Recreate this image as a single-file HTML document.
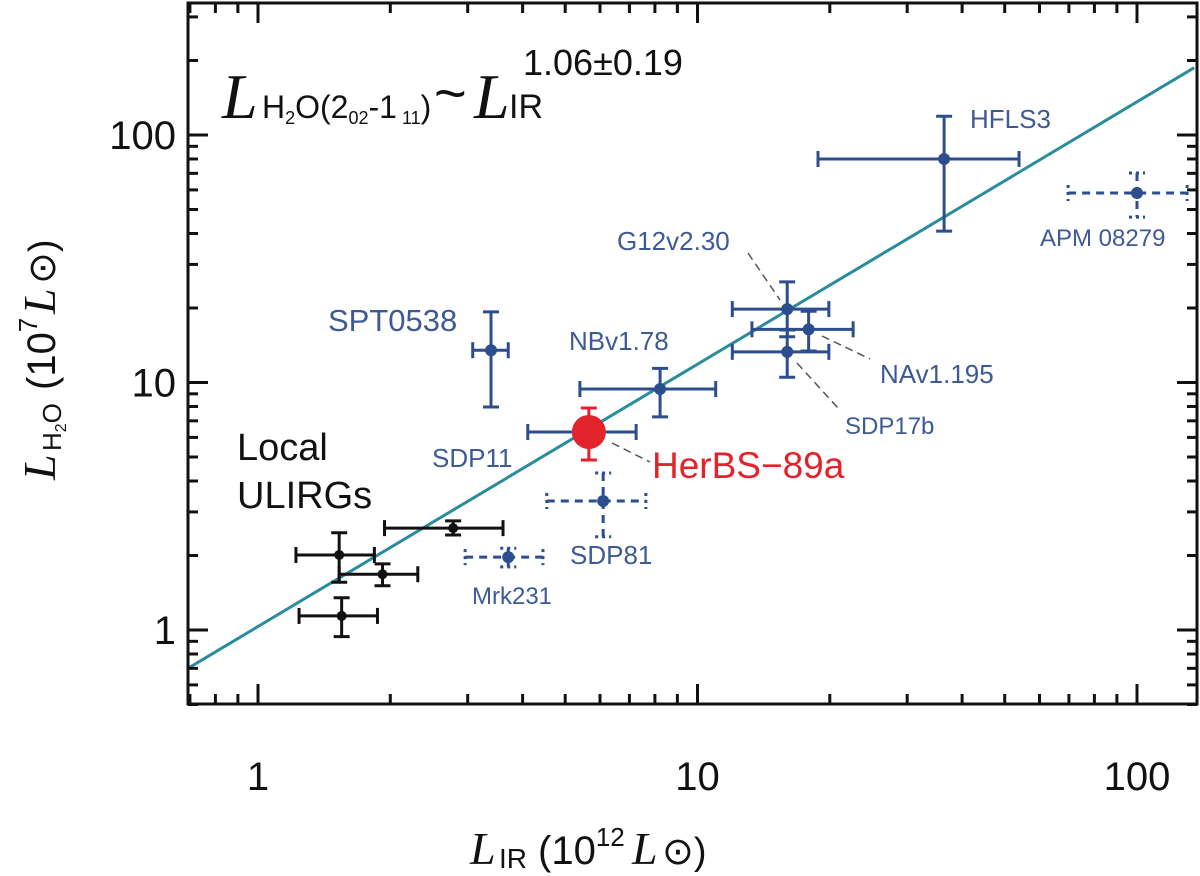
<!DOCTYPE html>
<html><head><meta charset="utf-8">
<style>
html,body{margin:0;padding:0;background:#fff;}
svg{display:block;}
text{font-family:"Liberation Sans",sans-serif;}
.serif{font-family:"Liberation Serif",serif;font-style:italic;}
</style></head>
<body>
<svg id="chart" width="1200" height="876" viewBox="0 0 1200 876" xmlns="http://www.w3.org/2000/svg">
  <g id="marks"></g>
  <g id="ticks"></g>
  <rect x="188" y="3" width="1009" height="701" fill="none" stroke="#111" stroke-width="3"/>
  <g>
    <text x="222" y="118" class="serif" font-size="64" fill="#111">L</text>
    <text x="262" y="118" font-size="32" fill="#111">H<tspan font-size="18" dy="6">2</tspan><tspan dy="-6">O(2</tspan><tspan font-size="18" dy="6">02</tspan><tspan dy="-6">-1</tspan><tspan font-size="18" dy="6"> 11</tspan><tspan dy="-6">)</tspan></text>
    <text x="434" y="112" font-size="56" fill="#111">~</text>
    <text x="474" y="118" class="serif" font-size="64" fill="#111">L</text>
    <text x="509" y="118" font-size="34" fill="#111">IR</text>
    <text x="523" y="75" font-size="36" fill="#111">1.06±0.19</text>
  </g>
  <g>
    <text x="470" y="864" class="serif" font-size="46" fill="#111">L</text>
    <text x="499" y="868" font-size="28" fill="#111">IR</text>
    <text x="538" y="864" font-size="40" fill="#111">(10<tspan font-size="26" dy="-18">12</tspan></text>
    <text x="632" y="864" class="serif" font-size="46" fill="#111">L</text>
    <text x="662" y="864" font-size="38" fill="#111">⊙)</text>
  </g>
  <g transform="translate(55,360) rotate(-90)">
    <text x="-120" y="0" class="serif" font-size="46" fill="#111">L</text>
    <text x="-91" y="6" font-size="26" fill="#111">H<tspan font-size="16" dy="5">2</tspan><tspan dy="-5">O</tspan></text>
    <text x="-30" y="0" font-size="40" fill="#111">(10<tspan font-size="26" dy="-18">7</tspan></text>
    <text x="46" y="0" class="serif" font-size="46" fill="#111">L</text>
    <text x="76" y="0" font-size="38" fill="#111">⊙)</text>
  </g>
  <g font-size="26" fill="#3d5a96">
    <text x="237" y="460" font-size="38" fill="#111">Local</text>
    <text x="237" y="508" font-size="38" fill="#111">ULIRGs</text>
    <text x="328" y="331" font-size="31">SPT0538</text>
    <text x="569" y="350" font-size="26">NBv1.78</text>
    <text x="432" y="467" font-size="26">SDP11</text>
    <text x="570" y="564" font-size="26">SDP81</text>
    <text x="472" y="604" font-size="24">Mrk231</text>
    <text x="617" y="250" font-size="26">G12v2.30</text>
    <text x="880" y="383" font-size="26">NAv1.195</text>
    <text x="845" y="434" font-size="24">SDP17b</text>
    <text x="970" y="128" font-size="26">HFLS3</text>
    <text x="1040" y="246" font-size="24">APM 08279</text>
    <text x="652" y="478" font-size="37" fill="#e3232c">HerBS−89a</text>
  </g>
  <g stroke="#555" stroke-width="1.5" stroke-dasharray="8,5" fill="none">
    <line x1="748" y1="253" x2="780" y2="300"/>
    <line x1="822" y1="336" x2="870" y2="359"/>
    <line x1="797" y1="363" x2="838" y2="408"/>
    <line x1="612" y1="443" x2="650" y2="462"/>
  </g>
</svg>
<script>
const X0 = 258, XDEC = 439.5, Y0 = 630, YDEC = 247.5;
const XMIN = 0.693, XMAX = 137, YMIN = 0.5, YMAX = 335;
function sx(v){ return X0 + Math.log10(v) * XDEC; }
function sy(v){ return Y0 - Math.log10(v) * YDEC; }

const names   = ["ULIRG-1","ULIRG-2","ULIRG-3","ULIRG-4","Mrk231","SPT0538","SDP11","SDP81","NBv1.78","G12v2.30","NAv1.195","SDP17b","HFLS3","APM08279"];
const lir     = [1.53, 1.92, 1.55, 2.78, 3.71, 3.39, 5.66, 6.10, 8.22, 16.0, 17.9, 16.0, 36.4, 100];
const lirLo   = [1.22, 1.53, 1.24, 1.94, 2.96, 3.08, 4.11, 4.54, 5.40, 12.0, 13.3, 12.0, 18.8, 69.7];
const lirHi   = [1.84, 2.31, 1.87, 3.61, 4.45, 3.71, 7.25, 7.63, 11.0, 19.9, 22.6, 19.9, 53.9, 130];
const lh2o    = [2.01, 1.68, 1.14, 2.58, 1.97, 13.5, 6.31, 3.32, 9.41, 19.8, 16.4, 13.3, 80.0, 58.3];
const lh2oLo  = [1.56, 1.51, 0.94, 2.42, 1.80, 7.96, 6.31, 2.38, 7.26, 15.3, 13.4, 10.5, 40.9, 46.6];
const lh2oHi  = [2.47, 1.85, 1.35, 2.76, 2.14, 19.3, 6.31, 4.31, 11.4, 25.5, 19.4, 16.3, 119, 70.2];
const group   = ["local","local","local","local","dash","hiz","hiz","dash","hiz","hiz","hiz","hiz","hiz","dash"];
const herbsLir = [5.66];
const herbsH2o = [6.31];
const herbsH2oLo = [4.86];
const herbsH2oHi = [7.89];
const fitSlope = 1.06, fitIntercept = 0.014;
const xTickLabels = [1, 10, 100];
const yTickLabels = [1, 10, 100];

const NS = "http://www.w3.org/2000/svg";
const marks = document.getElementById('marks');
const ticks = document.getElementById('ticks');
function mk(tag, attrs, parent){
  const e = document.createElementNS(NS, tag);
  for (const k in attrs) e.setAttribute(k, attrs[k]);
  (parent||marks).appendChild(e);
  return e;
}

const fl = mk('line', {x1: sx(XMIN), y1: sy(Math.pow(10, fitIntercept + fitSlope*Math.log10(XMIN))),
  x2: sx(XMAX*0.985), y2: sy(Math.pow(10, fitIntercept + fitSlope*Math.log10(XMAX*0.985))),
  stroke:'#2a8c9c', 'stroke-width':3});



for (let i=0;i<names.length;i++){
  const g = document.createElementNS(NS,'g');
  
  
  marks.appendChild(g);
  const col = group[i]==='local' ? '#111' : '#2c4d8e';
  const dash = group[i]==='dash' ? '8,6' : 'none';
  const cdash = group[i]==='dash' ? '3,4' : 'none';
  const cx = sx(lir[i]), cy = sy(lh2o[i]);
  const x1 = sx(lirLo[i]), x2 = sx(lirHi[i]), y1 = sy(lh2oHi[i]), y2 = sy(lh2oLo[i]);
  mk('line',{x1:x1,y1:cy,x2:x2,y2:cy,stroke:col,'stroke-width':3,'stroke-dasharray':dash},g);
  if (Math.abs(y2-y1) > 1) mk('line',{x1:cx,y1:y1,x2:cx,y2:y2,stroke:col,'stroke-width':3,'stroke-dasharray':dash},g);
  const cap = 8;
  mk('line',{x1:x1,y1:cy-cap,x2:x1,y2:cy+cap,stroke:col,'stroke-width':3,'stroke-dasharray':cdash},g);
  mk('line',{x1:x2,y1:cy-cap,x2:x2,y2:cy+cap,stroke:col,'stroke-width':3,'stroke-dasharray':cdash},g);
  if (Math.abs(y2-y1) > 1){
    mk('line',{x1:cx-cap,y1:y1,x2:cx+cap,y2:y1,stroke:col,'stroke-width':3,'stroke-dasharray':cdash},g);
    mk('line',{x1:cx-cap,y1:y2,x2:cx+cap,y2:y2,stroke:col,'stroke-width':3,'stroke-dasharray':cdash},g);
  }
  mk('circle',{cx:cx,cy:cy,r:group[i]==='local'?5:6,fill:col},g);
}

for (let i=0;i<herbsLir.length;i++){
  const g = document.createElementNS(NS,'g');
  
  
  marks.appendChild(g);
  const cx = sx(herbsLir[i]), cy = sy(herbsH2o[i]);
  const y1 = sy(herbsH2oHi[i]), y2 = sy(herbsH2oLo[i]);
  mk('line',{x1:cx,y1:y1,x2:cx,y2:y2,stroke:'#e3232c','stroke-width':3},g);
  mk('line',{x1:cx-8,y1:y1,x2:cx+8,y2:y1,stroke:'#e3232c','stroke-width':3},g);
  mk('line',{x1:cx-8,y1:y2,x2:cx+8,y2:y2,stroke:'#e3232c','stroke-width':3},g);
  mk('circle',{cx:cx,cy:cy,r:17,fill:'#e3232c'},g);
}

function tk(x1,y1,x2,y2){
  const l = mk('line',{x1:x1,y1:y1,x2:x2,y2:y2,stroke:'#111','stroke-width':3},ticks);
  
  
}
for (let d=-1; d<=2; d++){
  for (let m=1; m<=9; m++){
    const v = m*Math.pow(10,d);
    if (v < XMIN || v > XMAX) continue;
    const L = m===1 ? 20 : 10;
    const x = sx(v);
    tk(x,704,x,704-L); tk(x,3,x,3+L);
  }
}
for (let d=-1; d<=2; d++){
  for (let m=1; m<=9; m++){
    const v = m*Math.pow(10,d);
    if (v < YMIN || v > YMAX) continue;
    const L = m===1 ? 20 : 10;
    const y = sy(v);
    tk(188,y,188+L,y); tk(1197,y,1197-L,y);
  }
}
xTickLabels.forEach(v=>{
  const t = mk('text',{x:sx(v),y:790,'text-anchor':'middle','font-size':40,fill:'#111'},ticks);
  t.textContent = v;
  
  
});
yTickLabels.forEach(v=>{
  const t = mk('text',{x:176,y:sy(v)+14,'text-anchor':'end','font-size':40,fill:'#111'},ticks);
  t.textContent = v;
  
  
});
</script>
</body></html>
